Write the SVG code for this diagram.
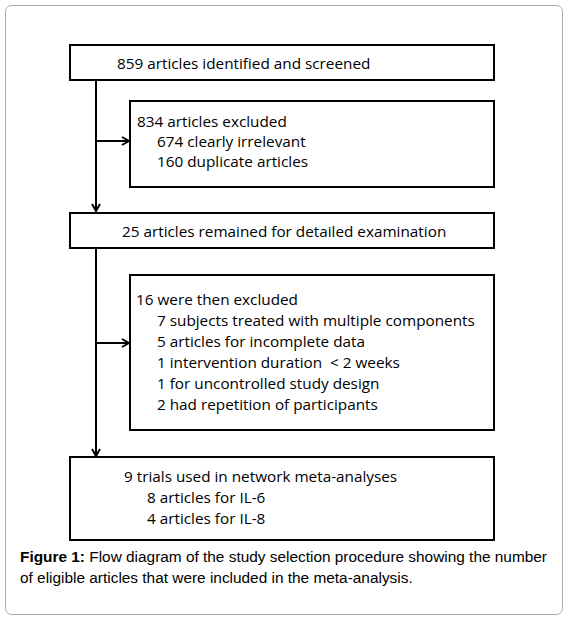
<svg xmlns="http://www.w3.org/2000/svg" width="569" height="623" viewBox="0 0 569 623">
<style>
.box{fill:#fff;stroke:#000;stroke-width:2}
.t{font-family:"Open Sans","Liberation Sans",sans-serif;font-size:15.3px;fill:#000}
.c{font-family:"Liberation Sans",Arial,sans-serif;font-size:15.4px;fill:#000}
.ln{stroke:#000;stroke-width:2;fill:none}
</style>
<defs>
<marker id="ah" viewBox="0 0 10 10" refX="9" refY="5" markerWidth="10" markerHeight="10" orient="auto" markerUnits="userSpaceOnUse">
<path d="M2,1 L9,5 L2,9" fill="none" stroke="#000" stroke-width="2"/>
</marker>
</defs>
<rect x="5.5" y="5.5" width="557" height="609" rx="6" fill="#fff" stroke="#aaa" stroke-width="1"/>
<g id="connectors">
<line class="ln" x1="96" y1="80" x2="96" y2="211" marker-end="url(#ah)"/>
<line class="ln" x1="96" y1="141" x2="129" y2="141" marker-end="url(#ah)"/>
<line class="ln" x1="96" y1="248" x2="96" y2="456" marker-end="url(#ah)"/>
<line class="ln" x1="96" y1="343" x2="129" y2="343" marker-end="url(#ah)"/>
</g>
<g id="n1"><rect class="box" x="70" y="45" width="424" height="35"/><text class="t" x="117" y="69">859 articles identified and screened</text></g>
<g id="n2"><rect class="box" x="130" y="101" width="364" height="86"/>
<text class="t" x="137" y="127">834 articles excluded</text>
<text class="t" x="157" y="147">674 clearly irrelevant</text>
<text class="t" x="157" y="167">160 duplicate articles</text></g>
<g id="n3"><rect class="box" x="70" y="213" width="424" height="35"/><text class="t" x="122" y="237">25 articles remained for detailed examination</text></g>
<g id="n4"><rect class="box" x="130" y="275" width="364" height="155"/>
<text class="t" x="136" y="305">16 were then excluded</text>
<text class="t" x="157" y="326">7 subjects treated with multiple components</text>
<text class="t" x="157" y="347">5 articles for incomplete data</text>
<text class="t" x="157" y="368">1 intervention duration &#160;&lt; 2 weeks</text>
<text class="t" x="157" y="389">1 for uncontrolled study design</text>
<text class="t" x="157" y="410">2 had repetition of participants</text></g>
<g id="n5"><rect class="box" x="70" y="457" width="424" height="83"/>
<text class="t" x="124" y="482">9 trials used in network meta-analyses</text>
<text class="t" x="147" y="503">8 articles for IL-6</text>
<text class="t" x="147" y="524">4 articles for IL-8</text></g>
<g id="caption">
<text class="c" x="20" y="562"><tspan font-weight="bold">Figure 1:</tspan> Flow diagram of the study selection procedure showing the number</text>
<text class="c" x="20" y="583">of eligible articles that were included in the meta-analysis.</text>
</g>
</svg>
